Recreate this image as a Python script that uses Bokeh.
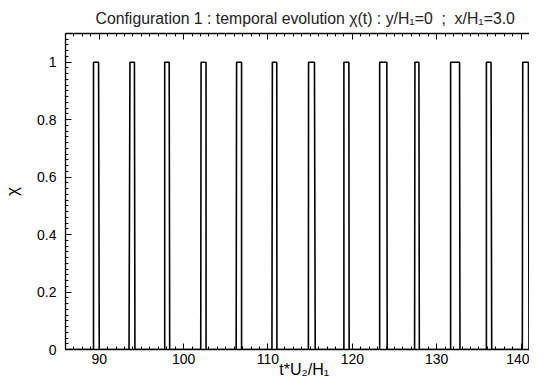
from bokeh.plotting import figure
from bokeh.models import FixedTicker, LinearAxis, CustomJSTickFormatter, Range1d
from bokeh.embed import file_html
from bokeh.resources import INLINE

# pulse vertices (time, chi)
t_vals = [86.0,
          89.32, 89.32, 89.92, 90.00,
          93.53, 93.64, 94.17, 94.23,
          97.76, 97.76, 98.29, 98.35,
          102.03, 102.07, 102.66, 102.66,
          106.23, 106.28, 106.87, 106.87,
          110.47, 110.52, 111.04, 111.06,
          114.79, 114.81, 115.51, 115.60,
          119.00, 119.00, 119.59, 119.62,
          123.24, 123.24, 124.09, 124.13,
          127.38, 127.42, 127.89, 127.94,
          131.65, 131.65, 132.71, 132.76,
          135.89, 135.89, 136.44, 136.52,
          140.15, 140.20, 140.87, 140.94,
          141.5]
chi_vals = [0.0] + [0.0, 1.0, 1.0, 0.0] * 13 + [0.0]

x_major = [90, 100, 110, 120, 130, 140]
x_minor = [v for v in range(86, 142)]
y_major = [0, 0.2, 0.4, 0.6, 0.8, 1.0]
y_minor = [round(i * 0.02, 2) for i in range(0, 56)]

FONT = "Liberation Sans"
NB = "\u00a0"

p = figure(width=529, height=380, output_backend="svg", toolbar_location=None,
           x_range=Range1d(86.0, 141.0), y_range=Range1d(0, 1.1),
           min_border_left=61, min_border_right=0, min_border_top=32,
           min_border_bottom=30)

p.title.text = ("Configuration 1 : temporal evolution \u03c7(t) : y/H\u2081=0" + NB + NB + ";" + NB + NB + "x/H\u2081=3.0")
p.title.text_font = FONT
p.title.text_font_size = "15.8px"
p.title.text_font_style = "normal"
p.title.align = "left"
p.title.offset = 30
p.title.text_color = "#222222"
p.title.standoff = 14

p.outline_line_color = None
p.xgrid.visible = False
p.ygrid.visible = False

p.line(t_vals, chi_vals, line_color="black", line_width=1.6)

fmt = CustomJSTickFormatter(code="return (Math.round(tick*10)/10).toString();")

def style(ax):
    ax.axis_line_color = "black"
    ax.axis_line_width = 1.3
    ax.major_tick_in = 6
    ax.major_tick_out = 0
    ax.minor_tick_in = 3
    ax.minor_tick_out = 0
    ax.major_tick_line_color = "black"
    ax.minor_tick_line_color = "black"
    ax.major_label_text_font = FONT
    ax.major_label_text_font_size = "14px"
    ax.major_label_text_color = "black"
    ax.axis_label_text_font = FONT
    ax.axis_label_text_font_style = "normal"
    ax.axis_label_text_color = "black"

xa = p.xaxis[0]
xa.ticker = FixedTicker(ticks=x_major, minor_ticks=x_minor)
style(xa)
xa.axis_label = NB + NB + NB + "t*U\u2082/H\u2081"
xa.axis_label_text_font_size = "16px"
xa.axis_label_standoff = -6
xa.major_label_standoff = 4

ya = p.yaxis[0]
ya.ticker = FixedTicker(ticks=y_major, minor_ticks=y_minor)
ya.formatter = fmt
style(ya)
ya.axis_label = "\u03c7"
ya.axis_label_text_font_size = "17px"
ya.axis_label_standoff = 12
ya.major_label_standoff = 9

top = LinearAxis(ticker=FixedTicker(ticks=x_major, minor_ticks=x_minor))
style(top)
top.major_label_text_font_size = "1px"
top.major_label_text_alpha = 0
top.major_label_standoff = 0
top.major_label_overrides = {v: "" for v in x_major}
p.add_layout(top, "above")

open("out.html", "w").write(file_html(p, INLINE))
